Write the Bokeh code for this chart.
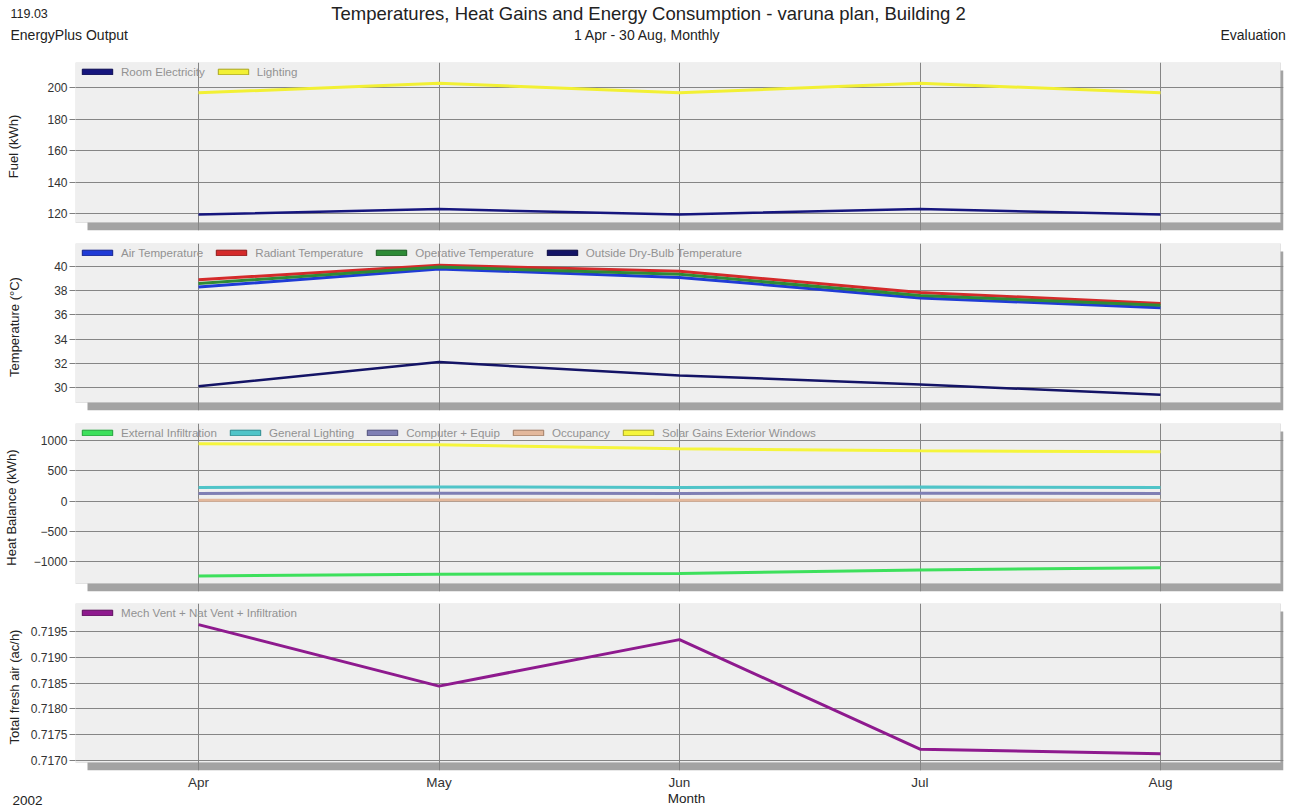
from bokeh.plotting import figure
from bokeh.models import (FixedTicker, Legend, LegendItem, Label, BoxAnnotation,
                          Range1d, PrintfTickFormatter)
from bokeh.layouts import column
from bokeh.embed import file_html
from bokeh.resources import INLINE

# ---------------- data ----------------
months = ["Apr", "May", "Jun", "Jul", "Aug"]
month_pos = [0, 1, 2, 3, 4]

room_electricity = [119.4, 122.8, 119.4, 122.8, 119.4]
lighting = [196.6, 202.7, 196.6, 202.7, 196.6]

air_temp = [38.3, 39.8, 39.1, 37.4, 36.6]
radiant_temp = [38.9, 40.1, 39.6, 37.85, 36.95]
operative_temp = [38.6, 39.95, 39.35, 37.6, 36.8]
outside_temp = [30.1, 32.1, 31.0, 30.25, 29.4]

external_infiltration = [-1240, -1210, -1200, -1140, -1105]
general_lighting = [225, 232, 225, 232, 225]
computer_equip = [126, 130, 126, 130, 126]
occupancy = [14, 15, 14, 15, 14]
solar_gains = [945, 930, 862, 830, 815]

fresh_air = [0.71963, 0.71844, 0.71934, 0.71722, 0.71713]

fuel_ticks = [120, 140, 160, 180, 200]
temp_ticks = [30, 32, 34, 36, 38, 40]
heat_ticks = [-1000, -500, 0, 500, 1000]
air_ticks = [0.7170, 0.7175, 0.7180, 0.7185, 0.7190, 0.7195]

# ---------------- layout constants (pixels) ----------------
FONT = "Liberation Sans"
W = 1290
FL, FR = 75, 1283          # frame (incl. right shadow strip)
PANEL_R = 1280             # right edge of the light panel
SHADOW_L = 87              # left edge of the drop shadow
SH = 8                     # drop-shadow offset (vertical)
X0_PX, X_STEP = 198, 240.5 # pixel of first month and pixels per month
NAN = float("nan")


def x_at(px):
    return (px - X0_PX) / X_STEP


def make_panel(page_top, page_bottom, frame_top, panel_bottom, ref, yticks, ylabel,
               ystand, series, show_x=False):
    (va, pa), (vb, pb) = ref
    upp = (va - vb) / (pb - pa)          # data units per pixel

    def y_at(px):
        return va + (pa - px) * upp

    frame_bottom = panel_bottom + SH
    height = page_bottom - page_top
    p = figure(width=W, height=height, output_backend="svg", toolbar_location=None,
               title=None,
               x_range=Range1d(x_at(FL), x_at(FR)),
               y_range=Range1d(y_at(frame_bottom), y_at(frame_top)),
               x_axis_location="below" if show_x else None,
               min_border_left=FL, min_border_right=W - FR,
               min_border_top=frame_top - page_top,
               min_border_bottom=page_bottom - frame_bottom)
    p.background_fill_color = "white"
    p.border_fill_color = "white"
    p.outline_line_color = None

    # drop shadow + light panel (drawn beneath the grid)
    p.add_layout(BoxAnnotation(left=x_at(SHADOW_L), top=y_at(frame_top + SH),
                               fill_color="#a3a3a3", fill_alpha=1, line_color=None,
                               level="image"))
    p.add_layout(BoxAnnotation(right=x_at(PANEL_R), bottom=y_at(panel_bottom),
                               fill_color="#efefef", fill_alpha=1,
                               line_color="#b4b4b4", line_width=1, level="image"))

    p.xgrid.ticker = FixedTicker(ticks=month_pos)
    p.ygrid.ticker = FixedTicker(ticks=yticks)
    for g in (p.xgrid, p.ygrid):
        g.grid_line_color = "#858585"
        g.grid_line_width = 1

    ax = p.yaxis[0]
    ax.ticker = FixedTicker(ticks=yticks)
    ax.axis_line_color = None
    ax.major_tick_out = 6
    ax.major_tick_in = 0
    ax.minor_tick_out = 0
    ax.minor_tick_in = 0
    ax.major_tick_line_color = "#808080"
    ax.major_label_text_font = FONT
    ax.major_label_text_font_size = "12px"
    ax.major_label_text_color = "#333333"
    ax.major_label_standoff = 2
    ax.axis_label = ylabel
    ax.axis_label_text_font = FONT
    ax.axis_label_text_font_size = "13px"
    ax.axis_label_text_font_style = "normal"
    ax.axis_label_text_color = "#222222"
    ax.axis_label_standoff = ystand

    items = []
    for lab, vals, col, edge, lw in series:
        p.line(x=month_pos, y=vals, line_color=col, line_width=lw)
    for lab, vals, col, edge, lw in series:
        # legend swatch only (no visible mark on the plot)
        sw = p.quad(left=[NAN], right=[NAN], top=[NAN], bottom=[NAN], fill_color=col,
                    line_color=edge, line_width=1)
        items.append(LegendItem(label=lab, renderers=[sw]))
    leg = Legend(items=items, location="top_left", orientation="horizontal",
                 margin=0, padding=3, spacing=9, label_standoff=5,
                 glyph_width=38, glyph_height=7, label_height=10,
                 label_text_font=FONT, label_text_font_size="11.6px",
                 label_text_color="#929292",
                 background_fill_alpha=0, border_line_alpha=0)
    p.add_layout(leg)
    return p


def text_strip(page_top, page_bottom, texts):
    """A blank strip (frame = whole canvas) holding free texts at page positions."""
    h = page_bottom - page_top
    s = figure(width=W, height=h, output_backend="svg", toolbar_location=None,
               title=None, x_range=Range1d(0, W), y_range=Range1d(0, h),
               x_axis_location=None, y_axis_location=None, min_border=0)
    xoff = 0
    if "frame_align" in s.properties():
        s.frame_align = False
    else:
        xoff = FL
    s.outline_line_color = None
    s.background_fill_color = "white"
    s.border_fill_color = "white"
    s.xgrid.visible = False
    s.ygrid.visible = False
    for px, py, text, size, align in texts:
        s.add_layout(Label(x=px - xoff, y=page_bottom - py, x_units="screen",
                           y_units="screen", text=text, text_font=FONT,
                           text_font_size=size, text_align=align,
                           text_baseline="middle", text_color="#222222"))
    return s


header = text_strip(0, 62, [
    (10, 13, "119.03", "12.5px", "left"),
    (10, 34, "EnergyPlus Output", "14px", "left"),
    (648, 13, "Temperatures, Heat Gains and Energy Consumption - varuna plan, Building 2",
     "18.5px", "center"),
    (647, 34, "1 Apr - 30 Aug, Monthly", "14px", "center"),
    (1220, 34, "Evaluation", "14px", "left"),
])

p1 = make_panel(62, 232, 62, 222, ((200, 87), (120, 213)), fuel_ticks,
                "Fuel (kWh)", 23, [
    ("Room Electricity", room_electricity, "#16167e", "#0c0c50", 2.5),
    ("Lighting", lighting, "#f2f034", "#a8a420", 3),
])

p2 = make_panel(232, 412, 243, 402, ((40, 266), (30, 387)), temp_ticks,
                "Temperature (°C)", 29, [
    ("Air Temperature", air_temp, "#1f3bd6", "#14238a", 3),
    ("Radiant Temperature", radiant_temp, "#d42a2a", "#8e1a1a", 3),
    ("Operative Temperature", operative_temp, "#2e8b36", "#1c5a22", 3),
    ("Outside Dry-Bulb Temperature", outside_temp, "#141466", "#0a0a40", 2.5),
])

p3 = make_panel(412, 593, 423, 583, ((1000, 440), (-1000, 561)), heat_ticks,
                "Heat Balance (kWh)", 12, [
    ("External Infiltration", external_infiltration, "#3de05c", "#22a03a", 3),
    ("General Lighting", general_lighting, "#50c4c8", "#2e8a8e", 3),
    ("Computer + Equip", computer_equip, "#7f7fb4", "#50507a", 3),
    ("Occupancy", occupancy, "#e3b89c", "#a07c64", 3),
    ("Solar Gains Exterior Windows", solar_gains, "#f5f53c", "#a8a420", 3),
])

p4 = make_panel(593, 792, 603, 763, ((0.7195, 631), (0.7170, 761)), air_ticks,
                "Total fresh air (ac/h)", 6, [
    ("Mech Vent + Nat Vent + Infiltration", fresh_air, "#8e1a8e", "#5c0e5c", 3),
], show_x=True)
p4.yaxis[0].formatter = PrintfTickFormatter(format="%.4f")

xa = p4.xaxis[0]
xa.ticker = FixedTicker(ticks=month_pos)
xa.major_label_overrides = {i: m for i, m in zip(month_pos, months)}
xa.axis_line_color = None
xa.major_tick_out = 0
xa.major_tick_in = 0
xa.minor_tick_out = 0
xa.minor_tick_in = 0
xa.major_label_text_font = FONT
xa.major_label_text_font_size = "13.5px"
xa.major_label_text_color = "#333333"
xa.major_label_standoff = 4

footer = text_strip(792, 808, [
    (12, 800, "2002", "13.5px", "left"),
    (686, 798, "Month", "13.5px", "center"),
])

layout = column(header, p1, p2, p3, p4, footer, spacing=0)
open("out.html", "w").write(file_html(layout, INLINE))
